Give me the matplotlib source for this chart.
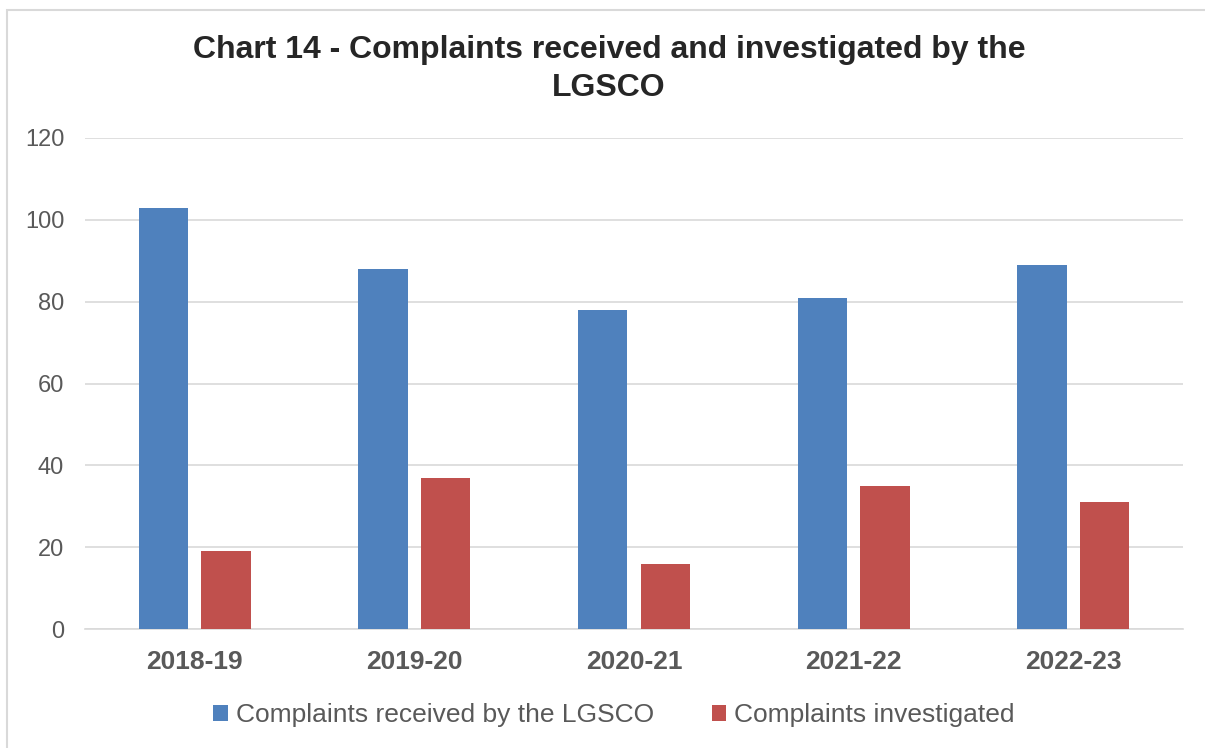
import numpy as np
import matplotlib.pyplot as plt
from matplotlib.patches import Rectangle

# data
years = ['2018-19', '2019-20', '2020-21', '2021-22', '2022-23']
received = [103, 88, 78, 81, 89]
investigated = [19, 37, 16, 35, 31]
series_names = ['Complaints received by the LGSCO', 'Complaints investigated']
colours = ['#4F81BD', '#C0504D']
y_ticks = [0, 20, 40, 60, 80, 100, 120]

plt.rcParams['font.family'] = ['Liberation Sans', 'DejaVu Sans']

W, H = 1205, 748
fig = plt.figure(figsize=(W/100., H/100.), dpi=100)
fig.patch.set_facecolor('white')

# chart frame (runs off the right and bottom edges)
fig.patches.append(Rectangle((7./W, -0.2), 1.2, 1.2 - 10./H, transform=fig.transFigure,
                             fill=False, edgecolor='#D9D9D9', lw=1.5))

ax = fig.add_axes([85./W, 1 - 629./H, (1183. - 85.)/W, (629. - 138.)/H])
x = np.arange(len(years))
bw = 0.225
gap = 0.06
ax.bar(x - (bw + gap)/2, received, bw, color=colours[0], zorder=3, label=series_names[0])
ax.bar(x + (bw + gap)/2, investigated, bw, color=colours[1], zorder=3, label=series_names[1])

ax.set_xlim(-0.5, len(years) - 0.5)
ax.set_ylim(0, 120)
ax.set_yticks(y_ticks)
ax.yaxis.grid(True, color='#D9D9D9', lw=1.2, zorder=0)
for s in ['top', 'right', 'left']:
    ax.spines[s].set_visible(False)
ax.spines['bottom'].set_color('#D9D9D9')
ax.spines['bottom'].set_linewidth(1.2)
ax.tick_params(axis='both', length=0)
ax.tick_params(axis='y', labelsize=17, labelcolor='#595959', pad=15)
ax.tick_params(axis='x', labelsize=19, labelcolor='#595959', pad=15)
ax.set_xticks(x)
ax.set_xticklabels(years, fontweight='bold')

fig.text(609./W, 1 - 50./H, 'Chart 14 - Complaints received and investigated by the',
         ha='center', va='center', fontsize=23, fontweight='bold', color='#262626')
fig.text(609./W, 1 - 88./H, 'LGSCO',
         ha='center', va='center', fontsize=23, fontweight='bold', color='#262626')

fig.legend(loc='center', bbox_to_anchor=(614./W, 1 - 715./H), ncol=2, frameon=False,
           fontsize=19, labelcolor='#595959', handlelength=0.55, handleheight=0.55,
           handletextpad=0.3, columnspacing=2.2)

plt.savefig('out.png', dpi=100)
